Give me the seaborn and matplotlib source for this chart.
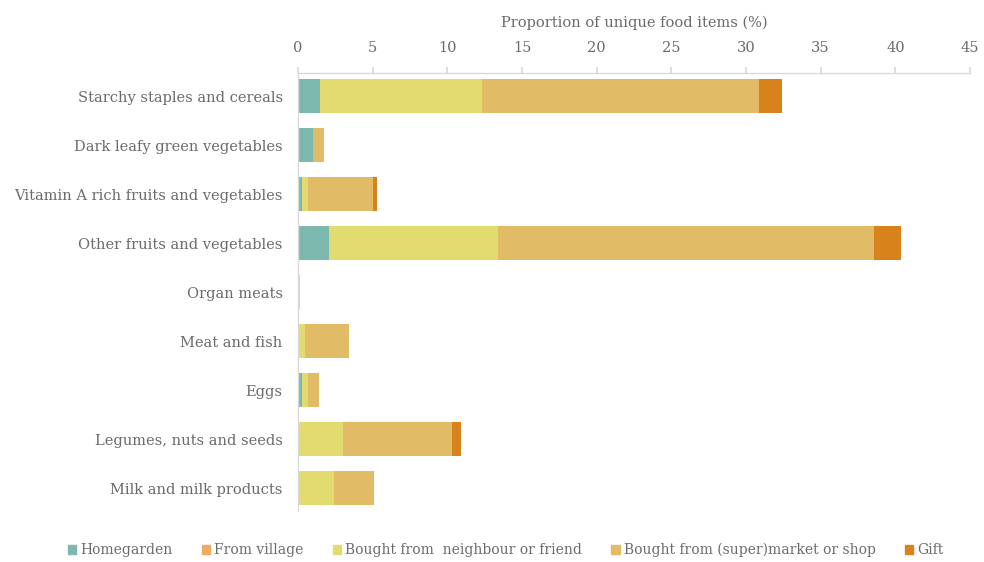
import matplotlib
matplotlib.use("Agg")
import matplotlib.pyplot as plt
import matplotlib.patches as mpatches
import numpy as np
import pandas as pd
import seaborn as sns

# food groups, top to bottom
groups = [
    "Starchy staples and cereals",
    "Dark leafy green vegetables",
    "Vitamin A rich fruits and vegetables",
    "Other fruits and vegetables",
    "Organ meats",
    "Meat and fish",
    "Eggs",
    "Legumes, nuts and seeds",
    "Milk and milk products",
]

sources = [
    "Homegarden",
    "From village",
    "Bought from  neighbour or friend",
    "Bought from (super)market or shop",
    "Gift",
]

homegarden = [1.5, 1.0, 0.3, 2.1, 0.0, 0.0, 0.3, 0.0, 0.0]
village = [0.0, 0.0, 0.0, 0.0, 0.0, 0.0, 0.0, 0.0, 0.0]
neighbour = [10.8, 0.0, 0.4, 11.3, 0.15, 0.5, 0.4, 3.0, 2.4]
market = [18.6, 0.75, 4.3, 25.2, 0.0, 2.9, 0.7, 7.3, 2.7]
gift = [1.5, 0.0, 0.3, 1.8, 0.0, 0.0, 0.0, 0.6, 0.0]

colors = ["#7cb8ad", "#f3ab63", "#e2dc70", "#e2bb66", "#d8821c"]
text_col = "#6b6b6b"

sns.set_theme(style="white")
plt.rcParams["font.family"] = ["DejaVu Serif", "Liberation Serif"]

fig = plt.figure(figsize=(9.84, 5.62), dpi=100)
ax = fig.add_axes([0.3028, 0.0907, 0.683, 0.7793])

layers = [homegarden, village, neighbour, market, gift]
cum = np.cumsum(np.array(layers), axis=0)

# draw cumulative totals from the outermost layer in, so they stack
for i in range(len(layers) - 1, -1, -1):
    df = pd.DataFrame({"group": groups, "value": cum[i]})
    sns.barplot(data=df, x="value", y="group", orient="h", color=colors[i],
                width=0.7, saturation=1, linewidth=0, ax=ax)

ax.set_xlim(0, 45)
ax.set_ylim(8.47, -0.47)
ax.set_xticks(np.arange(0, 46, 5))
ax.xaxis.tick_top()
ax.xaxis.set_label_position("top")
ax.set_xlabel("Proportion of unique food items (%)", fontsize=10.5,
              color=text_col, labelpad=10)
ax.set_ylabel("")
ax.tick_params(axis="x", top=True, length=4, color="#d9d9d9",
               labelsize=10.5, labelcolor=text_col, pad=9)
ax.tick_params(axis="y", left=False, length=0, labelsize=10.5,
               labelcolor=text_col, pad=11)

for side in ["right", "bottom"]:
    ax.spines[side].set_visible(False)
for side in ["top", "left"]:
    ax.spines[side].set_color("#d9d9d9")
    ax.spines[side].set_linewidth(1)

handles = [mpatches.Patch(color=c, label=s) for c, s in zip(colors, sources)]
fig.legend(handles=handles, loc="lower center", bbox_to_anchor=(0.514, -0.014),
           ncol=5, frameon=False, fontsize=10, handlelength=0.6,
           handleheight=0.6, handletextpad=0.3, columnspacing=2.1,
           labelcolor=text_col)

fig.savefig("out.png", dpi=100, facecolor="white")
